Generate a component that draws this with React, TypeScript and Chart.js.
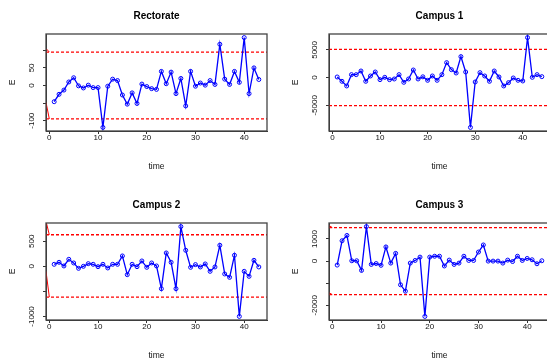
import React, { useEffect, useRef } from "react";
import { Chart, registerables } from "chart.js";

Chart.register(...registerables);

// ---- data (time index = position in the array, starting at 1) ----
const rectorateValues = [
  -46, -25, -13, 10, 22, -1, -7, 1, -6, -6, -119, -2, 18, 14, -27, -53, -21, -51, 4, -3,
  -9, -11, 40, 5, 38, -23, 20, -58, 40, -2, 7, 1, 14, 3, 117, 18, 3, 40, 9, 136, -23, 50, 17,
];
const campus1Values = [
  120, -660, -1500, 540, 540, 1200, -660, 300, 1020, -360, 60, -360, -240, 540, -840, -240,
  1380, -240, 150, -480, 300, -480, 540, 2710, 1440, 840, 3790, 1020, -8970, -780, 900, 300,
  -660, 1200, 120, -1500, -900, -60, -480, -600, 7220, 60, 540, 180,
];
const campus2Values = [
  40, 80, 7, 140, 67, -40, 0, 53, 40, -7, 40, -33, 40, 40, 207, -167, 40, -7, 107, -20, 67, 7,
  -447, 267, 80, -447, 793, 320, -20, 34, -13, 47, -100, -13, 420, -153, -220, 220, -1000,
  -100, -200, 120, -13,
];
const campus3Values = [
  -180, 920, 1160, 15, 15, -420, 1560, -150, -110, -190, 640, -90, 350, -1070, -1360, -90, 30,
  180, -2500, 180, 220, 220, -220, 45, -150, -90, 220, 30, 30, 410, 730, 0, 0, 0, -90, 45, -20,
  220, 30, 120, 60, -120, 15,
];

// control limits [upper, lower]
const rectorateLimits = [95, -95];
const campus1Limits = [5100, -5050];
const campus2Limits = [630, -615];
const campus3Limits = [1515, -1515];

// start-up value of the limit curves at the left edge [upper, lower]
const rectorateEdge = [105, -48];
const campus2Edge = [900, -100];
const campus3Edge = [1610, -1430];

// axis ticks and their labels
const xTicks = [0, 10, 20, 30, 40];
const rectorateYTicks = [-100, -50, 0, 50, 100];
const rectorateYLabels = ["-100", "", "0", "50", ""];
const campus1YTicks = [-5000, 0, 5000];
const campus1YLabels = ["-5000", "0", "5000"];
const campus2YTicks = [-1000, -500, 0, 500];
const campus2YLabels = ["-1000", "", "0", "500"];
const campus3YTicks = [-2000, -1000, 0, 1000];
const campus3YLabels = ["-2000", "", "0", "1000"];

const titles = ["Rectorate", "Campus 1", "Campus 2", "Campus 3"];

const FONT = "'Liberation Sans', Arial, Helvetica, sans-serif";
const W = 284;
const H = 189;

type PanelCfg = {
  title: string;
  values: number[];
  limits: number[];
  edge: number[] | null;
  yTicks: number[];
  yLabels: string[];
};

const panels: PanelCfg[] = [
  { title: titles[0], values: rectorateValues, limits: rectorateLimits, edge: rectorateEdge, yTicks: rectorateYTicks, yLabels: rectorateYLabels },
  { title: titles[1], values: campus1Values, limits: campus1Limits, edge: null, yTicks: campus1YTicks, yLabels: campus1YLabels },
  { title: titles[2], values: campus2Values, limits: campus2Limits, edge: campus2Edge, yTicks: campus2YTicks, yLabels: campus2YLabels },
  { title: titles[3], values: campus3Values, limits: campus3Limits, edge: campus3Edge, yTicks: campus3YTicks, yLabels: campus3YLabels },
];

const boxPlugin = {
  id: "rbox",
  afterDatasetsDraw(chart: any) {
    const { ctx, chartArea } = chart;
    ctx.save();
    ctx.strokeStyle = "#444";
    ctx.lineWidth = 1.3;
    ctx.strokeRect(chartArea.left, chartArea.top, chartArea.right - chartArea.left, chartArea.bottom - chartArea.top);
    ctx.restore();
  },
};

function measure(text: string, size: number) {
  const c = document.createElement("canvas").getContext("2d")!;
  c.font = `${size}px ${FONT}`;
  return c.measureText(text).width;
}

function Panel({ cfg, left, top }: { cfg: PanelCfg; left: number; top: number }) {
  const ref = useRef<HTMLCanvasElement>(null);
  useEffect(() => {
    const canvas = ref.current!;
    const n = cfg.values.length;
    const xmin = 1 - 0.04 * (n - 1);
    const xmax = n + 0.04 * (n - 1);
    const dmin = Math.min(...cfg.values);
    const dmax = Math.max(...cfg.values);
    const r = dmax - dmin;
    const ymin = dmin - 0.04 * r;
    const ymax = dmax + 0.04 * r;
    const tickSize = 8;
    const widest = Math.max(...cfg.yLabels.map((l) => measure(l, tickSize)));
    const yPad = 11 - widest / 2;

    const datasets: any[] = [
      {
        data: cfg.values.map((v, i) => ({ x: i + 1, y: v })),
        borderColor: "#0000ff",
        borderWidth: 1.3,
        pointRadius: 2,
        pointBorderWidth: 1,
        pointBorderColor: "#0000ff",
        pointBackgroundColor: "rgba(0,0,0,0)",
        tension: 0,
      },
      ...cfg.limits.map((L) => ({
        data: [{ x: xmin, y: L }, { x: xmax, y: L }],
        borderColor: "#ff0000",
        borderWidth: 1.3,
        borderDash: [3, 2],
        pointRadius: 0,
      })),
    ];
    if (cfg.edge) {
      cfg.edge.forEach((e, k) => {
        datasets.push({
          data: [{ x: xmin, y: e }, { x: 0, y: cfg.limits[k] }],
          borderColor: "#ff0000",
          borderWidth: 1,
          pointRadius: 0,
        });
      });
    }

    const tickFont = { family: FONT, size: tickSize, lineHeight: 1 };
    const chart = new Chart(canvas, {
      type: "line",
      data: { datasets },
      plugins: [boxPlugin],
      options: {
        animation: false,
        responsive: false,
        devicePixelRatio: 1,
        layout: { padding: { left: 0, right: W - 267, top: 0, bottom: 0 } },
        plugins: { legend: { display: false }, tooltip: { enabled: false }, title: { display: false } },
        scales: {
          x: {
            type: "linear",
            position: "bottom",
            min: xmin,
            max: xmax,
            afterBuildTicks: (s: any) => {
              s.ticks = xTicks.map((v) => ({ value: v }));
            },
            afterFit: (s: any) => {
              s.height = H - 131;
            },
            grid: { display: true, drawOnChartArea: false, drawTicks: true, tickLength: 3, color: "#333", lineWidth: 1 },
            border: { display: true, color: "#333", width: 1 },
            ticks: { font: tickFont, color: "#111", padding: 0, maxRotation: 0, autoSkip: false, callback: (v: any) => String(v) },
            title: { display: true, text: "time", font: { family: FONT, size: 8.5, lineHeight: 1 }, color: "#111", padding: { top: 0, bottom: 18 } },
          },
          top: {
            type: "linear",
            position: "top",
            afterFit: (s: any) => {
              s.height = 34;
            },
            grid: { display: false },
            border: { display: false },
            ticks: { display: false },
            title: { display: true, text: cfg.title, font: { family: FONT, size: 10, weight: "bold", lineHeight: 1 }, color: "#000", padding: { top: 11, bottom: 0 } },
          },
          y: {
            type: "linear",
            position: "left",
            min: ymin,
            max: ymax,
            afterBuildTicks: (s: any) => {
              s.ticks = cfg.yTicks.map((v) => ({ value: v }));
            },
            afterFit: (s: any) => {
              s.width = 46;
            },
            grid: { display: true, drawOnChartArea: false, drawTicks: true, tickLength: 3, color: "#333", lineWidth: 1 },
            border: { display: true, color: "#333", width: 1 },
            ticks: {
              font: tickFont,
              color: "#111",
              minRotation: 90,
              maxRotation: 90,
              crossAlign: "center",
              padding: yPad,
              autoSkip: false,
              callback: (v: any) => {
                const i = cfg.yTicks.indexOf(Number(v));
                return i >= 0 ? cfg.yLabels[i] : "";
              },
            },
            title: { display: true, text: "E", font: { family: FONT, size: 8.5, lineHeight: 1 }, color: "#111", padding: { top: 8, bottom: 0 } },
          },
        },
      } as any,
    });
    return () => chart.destroy();
  }, [cfg]);
  return (
    <canvas
      ref={ref}
      width={W}
      height={H}
      style={{ position: "absolute", left, top, width: W, height: H, display: "block" }}
    />
  );
}

export default function App() {
  const lefts = [0, 283, 0, 283];
  const tops = [0, 0, 189, 189];
  return (
    <div
      style={{
        position: "fixed",
        left: 0,
        top: 0,
        width: 547,
        height: 361,
        overflow: "hidden",
        background: "#fff",
      }}
    >
      {panels.map((p, i) => (
        <Panel key={p.title} cfg={p} left={lefts[i]} top={tops[i]} />
      ))}
    </div>
  );
}
